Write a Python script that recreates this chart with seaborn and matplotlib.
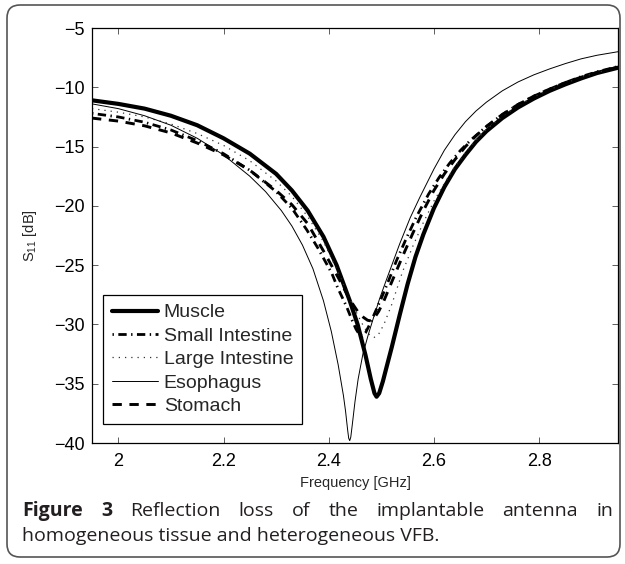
import matplotlib
matplotlib.use("Agg")
import matplotlib.pyplot as plt
from matplotlib.patches import FancyBboxPatch
import seaborn as sns
import pandas as pd

# ---------------- data ----------------
series_names = ["Muscle", "Small Intestine", "Large Intestine", "Esophagus", "Stomach"]

muscle_f = [1.95, 2.00, 2.05, 2.10, 2.15, 2.20, 2.25, 2.30, 2.33, 2.36, 2.39, 2.415, 2.44,
            2.455, 2.47, 2.48, 2.487, 2.491, 2.496, 2.503, 2.51, 2.52, 2.535, 2.55, 2.565,
            2.58, 2.60, 2.62, 2.64, 2.66, 2.68, 2.70, 2.73, 2.76, 2.79, 2.82, 2.85, 2.88,
            2.91, 2.95]
muscle_s = [-11.1, -11.4, -11.8, -12.4, -13.2, -14.3, -15.6, -17.3, -18.7, -20.4, -22.6, -25.0, -28.0,
            -30.0, -32.6, -34.6, -35.8, -36.1, -35.8, -34.8, -33.6, -31.9, -29.2, -26.6, -24.3,
            -22.4, -20.2, -18.4, -16.9, -15.7, -14.6, -13.7, -12.6, -11.7, -10.95, -10.3, -9.75, -9.25,
            -8.8, -8.35]

small_f = [1.95, 2.00, 2.05, 2.10, 2.15, 2.20, 2.25, 2.30, 2.33, 2.358, 2.38, 2.406, 2.417,
           2.434, 2.444, 2.452, 2.459, 2.464, 2.47, 2.478, 2.49, 2.50, 2.513, 2.529, 2.548,
           2.567, 2.59, 2.61, 2.63, 2.65, 2.67, 2.70, 2.73, 2.76, 2.79, 2.82, 2.85, 2.88,
           2.91, 2.95]
small_s = [-12.2, -12.5, -12.95, -13.6, -14.5, -15.6, -17.0, -18.8, -20.2, -22.0, -23.6, -25.7, -26.9,
           -28.5, -29.6, -30.4, -30.9, -31.0, -30.7, -30.0, -28.8, -27.8, -26.4, -24.6, -22.7,
           -20.9, -19.0, -17.6, -16.4, -15.35, -14.45, -13.3, -12.3, -11.45, -10.75, -10.15, -9.6, -9.1,
           -8.7, -8.25]

large_f = [1.95, 2.00, 2.05, 2.10, 2.15, 2.20, 2.25, 2.30, 2.33, 2.36, 2.39, 2.42, 2.44,
           2.455, 2.468, 2.478, 2.486, 2.494, 2.505, 2.52, 2.54, 2.56, 2.58, 2.60, 2.62,
           2.64, 2.66, 2.68, 2.70, 2.73, 2.76, 2.79, 2.82, 2.85, 2.88, 2.91, 2.95]
large_s = [-11.8, -12.1, -12.5, -13.1, -13.9, -14.9, -16.2, -17.9, -19.2, -20.9, -23.0, -25.8, -27.8,
           -29.2, -30.3, -30.9, -31.1, -30.9, -30.0, -28.3, -25.6, -23.4, -21.4, -19.6, -18.1,
           -16.7, -15.5, -14.45, -13.55, -12.45, -11.55, -10.8, -10.2, -9.65, -9.15, -8.75, -8.35]

eso_f = [1.95, 2.00, 2.05, 2.10, 2.15, 2.20, 2.25, 2.28, 2.31, 2.33, 2.35, 2.37, 2.39, 2.405,
         2.418, 2.428, 2.432, 2.436, 2.438, 2.44, 2.442, 2.445, 2.45, 2.456, 2.465, 2.475,
         2.484, 2.497, 2.51, 2.535, 2.555, 2.573, 2.60, 2.62, 2.64, 2.66, 2.68, 2.70, 2.73,
         2.76, 2.79, 2.82, 2.85, 2.88, 2.91, 2.95]
eso_s = [-11.4, -11.8, -12.4, -13.2, -14.3, -15.7, -17.5, -18.8, -20.4, -21.7, -23.3, -25.3, -28.0, -30.6,
         -33.4, -36.0, -37.3, -38.9, -39.6, -39.8, -39.5, -38.4, -36.5, -34.6, -32.5, -30.9,
         -29.6, -27.8, -26.2, -23.2, -21.0, -19.3, -16.9, -15.3, -14.0, -12.9, -12.0, -11.25, -10.3,
         -9.55, -8.95, -8.45, -8.0, -7.6, -7.3, -7.0]

stom_f = [1.95, 2.00, 2.05, 2.10, 2.15, 2.20, 2.25, 2.30, 2.33, 2.36, 2.39, 2.42, 2.44,
          2.455, 2.466, 2.474, 2.48, 2.486, 2.495, 2.505, 2.52, 2.54, 2.56, 2.58, 2.60,
          2.62, 2.64, 2.66, 2.68, 2.70, 2.73, 2.76, 2.79, 2.82, 2.85, 2.88, 2.91, 2.95]
stom_s = [-12.6, -12.85, -13.25, -13.85, -14.7, -15.7, -17.0, -18.7, -19.9, -21.5, -23.8, -26.2, -27.9,
          -28.9, -29.4, -29.65, -29.7, -29.5, -28.9, -28.0, -26.4, -24.3, -22.3, -20.4, -18.7,
          -17.3, -16.1, -15.0, -14.1, -13.3, -12.3, -11.45, -10.75, -10.15, -9.6, -9.15, -8.75, -8.3]

x_ticks = [2.0, 2.2, 2.4, 2.6, 2.8]
x_tick_labels = ["2", "2.2", "2.4", "2.6", "2.8"]
y_ticks = [-40, -35, -30, -25, -20, -15, -10, -5]

caption_bold = ["Figure", "3"]
caption_line1 = ["Reflection", "loss", "of", "the", "implantable", "antenna", "in"]
caption_line2 = "homogeneous tissue and heterogeneous VFB."

# ---------------- style ----------------
sns.set_theme(style="white")
plt.rcParams["font.family"] = ["Liberation Sans", "DejaVu Sans"]
plt.rcParams["mathtext.fontset"] = "custom"
plt.rcParams["mathtext.rm"] = "Liberation Sans"
plt.rcParams["axes.unicode_minus"] = True

W, H = 625, 564
fig = plt.figure(figsize=(W / 100, H / 100), dpi=100)
fig.patch.set_facecolor("white")

ax_l, ax_r, ax_t, ax_b = 92, 618, 28, 443
ax = fig.add_axes([ax_l / W, 1 - ax_b / H, (ax_r - ax_l) / W, (ax_b - ax_t) / H])

frames = []
for name, f, s in [("Muscle", muscle_f, muscle_s), ("Small Intestine", small_f, small_s),
                   ("Large Intestine", large_f, large_s), ("Esophagus", eso_f, eso_s),
                   ("Stomach", stom_f, stom_s)]:
    frames.append(pd.DataFrame({"freq": f, "s11": s, "tissue": name}))
df = pd.concat(frames, ignore_index=True)

styles = {
    "Muscle": dict(lw=3.0, ls="-", color="black"),
    "Small Intestine": dict(lw=2.0, ls=(0, (0.5, 1.6, 3.0, 1.6)), color="black"),
    "Large Intestine": dict(lw=0.9, ls=(0, (1.0, 4.0)), color="#333333"),
    "Esophagus": dict(lw=0.7, ls="-", color="black"),
    "Stomach": dict(lw=2.1, ls=(0, (3.2, 2.6)), color="black"),
}

for name in series_names:
    st = styles[name]
    sub = df[df["tissue"] == name]
    sns.lineplot(data=sub, x="freq", y="s11", ax=ax, estimator=None, sort=False,
                 color=st["color"], linewidth=st["lw"], label=name)
    line = ax.lines[-1]
    line.set_linestyle(st["ls"])
    line.set_dash_capstyle("butt")
    line.set_solid_joinstyle("round")

ax.set_xlim(1.95, 2.95)
ax.set_ylim(-40, -5)
ax.set_xticks(x_ticks)
ax.set_xticklabels(x_tick_labels)
ax.set_yticks(y_ticks)
ax.tick_params(axis="both", direction="in", length=4, width=0.6, color="#444444",
               labelsize=13, top=True, right=True, bottom=True, left=True, labelcolor="black")
ax.tick_params(axis="x", pad=7)
ax.tick_params(axis="y", pad=5)
for sp in ax.spines.values():
    sp.set_visible(True)
    sp.set_color("black")
    sp.set_linewidth(0.9)

ax.set_xlabel("Frequency [GHz]", fontsize=10.5)
ax.xaxis.set_label_coords(0.5, (ax_b - 483) / (ax_b - ax_t))
ax.xaxis.label.set_va("center")
ax.set_ylabel(r"S$_{\mathregular{11}}$ [dB]", fontsize=10.5)
ax.yaxis.set_label_coords((30 - ax_l) / (ax_r - ax_l), 0.5)
ax.yaxis.label.set_va("center")

leg_left = (103 - ax_l) / (ax_r - ax_l)
leg_top = (ax_b - 295) / (ax_b - ax_t)
leg = ax.legend(loc="upper left", bbox_to_anchor=(leg_left, leg_top), borderaxespad=0,
                fontsize=14, frameon=True, fancybox=False, edgecolor="black",
                handlelength=2.4, handletextpad=0.28, labelspacing=0.3, borderpad=0.45)
leg.get_frame().set_linewidth(0.9)
leg.get_frame().set_alpha(1)
for h, name in zip(leg.get_lines(), series_names):
    h.set_linestyle(styles[name]["ls"])
    h.set_linewidth(styles[name]["lw"])
    h.set_color(styles[name]["color"])

# ---------------- border ----------------
border = FancyBboxPatch((7 / 100, 7 / 100), 613 / 100, 552 / 100,
                        boxstyle="round,pad=0,rounding_size=0.13",
                        transform=fig.dpi_scale_trans, fill=False,
                        edgecolor="#555555", linewidth=1.2)
fig.add_artist(border)

# ---------------- caption ----------------
cap_font = ["Open Sans", "DejaVu Sans"]
cap_size = 14
cap_color = "#231f20"
fig.canvas.draw()
renderer = fig.canvas.get_renderer()

x0, x1 = 22, 613
y1_base = 516
y2_base = 541
words = [(w, "bold") for w in caption_bold] + [(w, "normal") for w in caption_line1]
texts = []
for w, wt in words:
    t = fig.text(0, 1 - y1_base / H, w, fontsize=cap_size, fontweight=wt, family=cap_font,
                 color=cap_color, va="baseline", ha="left")
    texts.append(t)
widths = [t.get_window_extent(renderer).width for t in texts]
gap = (x1 - x0 - sum(widths)) / (len(texts) - 1)
xpos = x0
for t, wdt in zip(texts, widths):
    t.set_x(xpos / W)
    xpos += wdt + gap

fig.text(x0 / W, 1 - y2_base / H, caption_line2, fontsize=cap_size, family=cap_font,
         color=cap_color, va="baseline", ha="left")

fig.savefig("out.png", dpi=100)
